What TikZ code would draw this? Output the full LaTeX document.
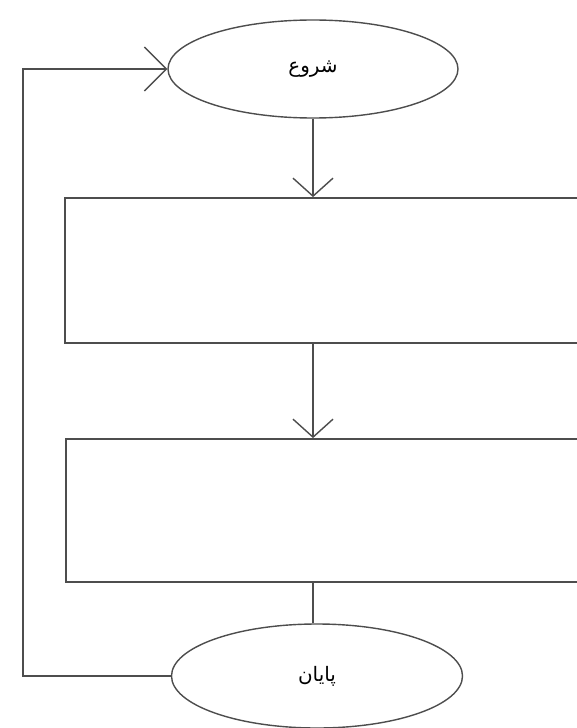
\documentclass[tikz,border=0pt]{standalone}
\usepackage{fontspec}
\newfontfamily\arabicfont[Script=Arabic]{DejaVu Sans}
\TeXXeTstate=1
\usetikzlibrary{shapes.geometric,arrows.meta}
\definecolor{ln}{HTML}{4D4D4D}
\tikzset{
  term/.style={ellipse, draw=ln, line width=1.4bp, inner sep=0pt, font=\arabicfont\fontsize{20}{24}\selectfont},
  proc/.style={rectangle, draw=ln, line width=1.8bp, inner sep=0pt},
  conn/.style={draw=ln, line width=1.8bp},
  vtip/.style={-{Straight Barb[length=18bp, width=40bp, line width=1.4bp]}},
  ltip/.style={-{Straight Barb[length=22bp, width=44bp, line width=1.4bp]}}
}
\begin{document}
\begin{tikzpicture}[x=1bp, y=-1bp]
\useasboundingbox (0,0) rectangle (577,728);
\fill[white] (0,0) rectangle (577,728);
\clip (0,0) rectangle (577,728);
\node[term, minimum width=290bp, minimum height=98bp] (top) at (313,69) {\beginR شروع\endR};
\node[proc, minimum width=527bp, minimum height=145bp] (r1) at (328.5,270.5) {};
\node[proc, minimum width=526bp, minimum height=143bp] (r2) at (329,510.5) {};
\node[term, minimum width=291bp, minimum height=104bp] (bot) at (317,676) {\beginR پایان\endR};
\coordinate (lx) at (23,0);
\draw[conn, vtip] (top.south) -- (top.south |- r1.north);
\draw[conn, vtip] (r1.south -| top.south) -- (r2.north -| top.south);
\draw[conn] (r2.south -| top.south) -- (bot.north -| top.south);
\draw[conn, ltip] (bot.west) -- (bot.west -| lx) |- (top.west);
\end{tikzpicture}
\end{document}
